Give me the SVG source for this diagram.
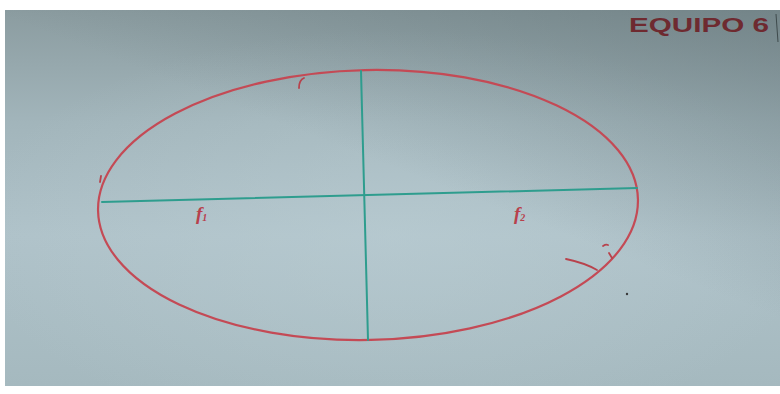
<svg xmlns="http://www.w3.org/2000/svg" width="780" height="394" viewBox="0 0 780 394">
<defs>
<linearGradient id="bg" x1="0" y1="0" x2="0" y2="1">
<stop offset="0" stop-color="#8b9ca0"/>
<stop offset="0.3" stop-color="#a2b5bb"/>
<stop offset="0.6" stop-color="#afc2c9"/>
<stop offset="1" stop-color="#a5b9bf"/>
</linearGradient>
<radialGradient id="glow" cx="0.5" cy="0.6" r="0.55">
<stop offset="0" stop-color="#bccfd5" stop-opacity="0.5"/>
<stop offset="1" stop-color="#bccfd5" stop-opacity="0"/>
</radialGradient>
<linearGradient id="corner" x1="1" y1="0" x2="0.6" y2="0.5">
<stop offset="0" stop-color="#56676b" stop-opacity="0.45"/>
<stop offset="1" stop-color="#56676b" stop-opacity="0"/>
</linearGradient>
<style>
.curve{fill:none;stroke:#c44a55;stroke-width:2.2;stroke-linecap:round}
.axis{fill:none;stroke:#2e9d8e;stroke-width:2;stroke-linecap:round}
.mark{fill:none;stroke:#b8424c;stroke-width:1.8;stroke-linecap:round}
.lbl{font-family:"Liberation Serif",serif;font-style:italic;font-weight:bold;fill:#b8404c}
.title{font-family:"Liberation Sans",sans-serif;font-weight:bold;font-size:20px;fill:#6e2a30}
</style>
</defs>
<rect width="780" height="394" fill="#ffffff"/>
<rect x="5" y="10" width="775" height="376" fill="url(#bg)"/>
<rect x="5" y="10" width="775" height="376" fill="url(#glow)"/>
<rect x="5" y="10" width="775" height="376" fill="url(#corner)"/>
<line x1="776" y1="14" x2="778" y2="42" stroke="#3e4a4c" stroke-width="1"/>
<text class="title" x="629" y="32" textLength="140" lengthAdjust="spacingAndGlyphs">EQUIPO 6</text>
<g id="ellipse">
<ellipse class="curve" cx="368" cy="205" rx="270" ry="135" transform="rotate(-1.2 368 205)"/>
</g>
<g id="connectors">
<line class="axis" x1="102" y1="202" x2="637" y2="188"/>
<line class="axis" x1="361" y1="71" x2="368" y2="340"/>
</g>
<g id="f1">
<text class="lbl" x="196" y="220" font-size="19">f<tspan font-size="10" dy="1">1</tspan></text>
</g>
<g id="f2">
<text class="lbl" x="514" y="220" font-size="19">f<tspan font-size="10" dy="1">2</tspan></text>
</g>
<g id="marks">
<path class="mark" d="M299 88 Q299 80 304 78"/>
<path class="mark" d="M566 259 Q585 263 597 270"/>
<path class="mark" d="M603 246 Q606 244 608 245"/>
<path class="mark" d="M609 253 L612 258" stroke-width="3.5"/>
<path class="mark" d="M100 182 L101 176" stroke-width="3"/>
</g>
<circle cx="627" cy="294" r="1.2" fill="#3a3a3a"/>
</svg>
